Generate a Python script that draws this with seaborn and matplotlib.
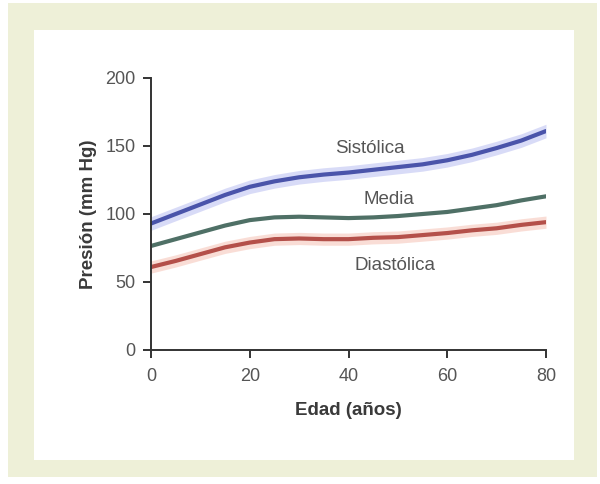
import numpy as np
import pandas as pd
import matplotlib.pyplot as plt
from matplotlib.patches import Rectangle
import seaborn as sns

# Datos (edad en años, presión en mm Hg)
edad = [0, 5, 10, 15, 20, 25, 30, 35, 40, 45, 50, 55, 60, 65, 70, 75, 80]
sistolica = [93, 100, 107, 114, 120, 124, 127, 129, 130.5, 132.5, 134.5, 136.5, 139.5, 143.5, 148.5, 154, 161]
media = [76.5, 81.5, 86.5, 91.5, 95.5, 97.5, 98, 97.5, 97, 97.5, 98.5, 100, 101.5, 104, 106.5, 110, 113]
diastolica = [61, 65.5, 70.5, 75.5, 79, 81.5, 82, 81.5, 81.5, 82.5, 83, 84.5, 86, 88, 89.5, 92, 94]

series = ['Sistólica', 'Media', 'Diastólica']
colores = {'Sistólica': '#4a54aa', 'Media': '#4f7066', 'Diastólica': '#b4504a'}
bandas = {'Sistólica': ('#d2d5f6', 5.0), 'Diastólica': ('#f9d8cf', 4.5)}

df = pd.DataFrame({'Edad': edad * 3,
                   'Presion': sistolica + media + diastolica,
                   'Serie': [s for s in series for _ in edad]})

sns.set_style("white")
plt.rcParams['font.family'] = ['Liberation Sans', 'DejaVu Sans']

fig = plt.figure(figsize=(6, 4.84), dpi=100)
fig.patch.set_facecolor('white')
# marco de la página (foto)
fig.patches.append(Rectangle((8 / 600, 1 - 477 / 484), 589 / 600, 474 / 484,
                             transform=fig.transFigure, facecolor='#eef0d8',
                             edgecolor='none', zorder=-10))
fig.patches.append(Rectangle((34 / 600, 1 - 460 / 484), 540 / 600, 430 / 484,
                             transform=fig.transFigure, facecolor='white',
                             edgecolor='none', zorder=-9))

ax = fig.add_axes([151 / 600, 1 - 350 / 484, 395 / 600, 272 / 484])
ax.set_facecolor('none')

for s, (c, hw) in bandas.items():
    d = df[df['Serie'] == s]
    ax.fill_between(d['Edad'], d['Presion'] - hw, d['Presion'] + hw,
                    color=c, alpha=0.85, linewidth=0, zorder=1)

sns.lineplot(data=df, x='Edad', y='Presion', hue='Serie', palette=colores,
             linewidth=3.0, legend=False, ax=ax, zorder=2)

etiquetas = {'Sistólica': (44.3, 148.5), 'Media': (48.2, 111), 'Diastólica': (49.4, 61.8)}
for s, (x, y) in etiquetas.items():
    ax.text(x, y, s, ha='center', va='center', fontsize=13.5, color='#555555')

ax.set_xlim(0, 80)
ax.set_ylim(0, 200)
ax.set_xticks([0, 20, 40, 60, 80])
ax.set_yticks([0, 50, 100, 150, 200])
ax.tick_params(axis='both', direction='out', length=6, width=1.4, color='#333333',
               labelsize=13, labelcolor='#555555', left=True, bottom=True, pad=5)
ax.tick_params(axis='x', pad=7)
for side in ['top', 'right']:
    ax.spines[side].set_visible(False)
for side in ['left', 'bottom']:
    ax.spines[side].set_color('#333333')
    ax.spines[side].set_linewidth(1.4)

ax.set_xlabel('Edad (años)', fontsize=13.5, fontweight='bold', color='#3a3a3a', labelpad=12)
ax.set_ylabel('Presión (mm Hg)', fontsize=13.5, fontweight='bold', color='#3a3a3a', labelpad=6)

fig.savefig('out.png', dpi=100)
